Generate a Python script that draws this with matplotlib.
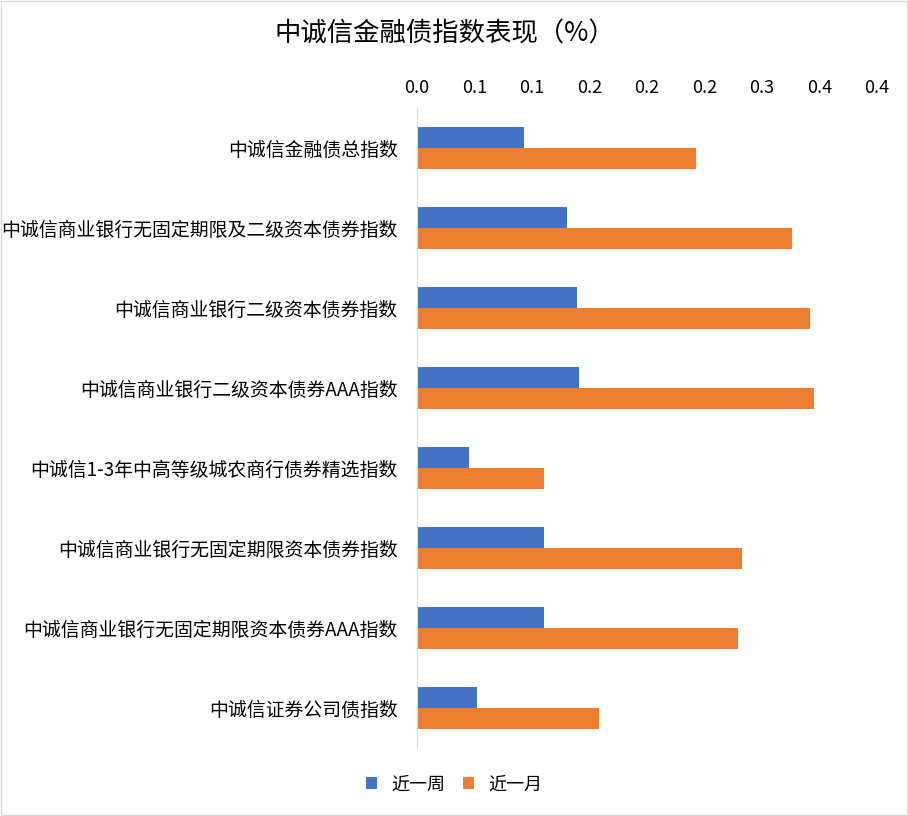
import matplotlib.pyplot as plt
import numpy as np
from matplotlib.ticker import FormatStrFormatter

plt.rcParams['font.family'] = ['Noto Sans CJK SC', 'DejaVu Sans']

categories = [
    "中诚信金融债总指数",
    "中诚信商业银行无固定期限及二级资本债券指数",
    "中诚信商业银行二级资本债券指数",
    "中诚信商业银行二级资本债券AAA指数",
    "中诚信1-3年中高等级城农商行债券精选指数",
    "中诚信商业银行无固定期限资本债券指数",
    "中诚信商业银行无固定期限资本债券AAA指数",
    "中诚信证券公司债指数",
]
week = [0.093, 0.130, 0.139, 0.141, 0.045, 0.110, 0.110, 0.052]
month = [0.243, 0.326, 0.342, 0.345, 0.110, 0.283, 0.279, 0.158]

fig = plt.figure(figsize=(9.08, 8.16), dpi=100)
ax = fig.add_axes([417 / 908, 68 / 816, 460 / 908, 640 / 816])

y = np.arange(len(categories))
h = 0.265
ax.barh(y - h / 2, week, height=h, color="#4472C4", label="近一周")
ax.barh(y + h / 2, month, height=h, color="#ED7D31", label="近一月")

ax.set_ylim(len(categories) - 0.5, -0.5)
ax.set_xlim(0, 0.4)
ax.set_xticks(np.arange(0, 0.401, 0.05))
ax.xaxis.set_major_formatter(FormatStrFormatter("%.1f"))
ax.xaxis.tick_top()
ax.set_yticks(y)
ax.set_yticklabels(categories)
ax.tick_params(axis="x", length=0, labelsize=13, colors="#000000", pad=8)
ax.tick_params(axis="y", length=0, labelsize=13.6, colors="#000000", pad=14)
for s in ["top", "right", "bottom"]:
    ax.spines[s].set_visible(False)
ax.spines["left"].set_color("#D9D9D9")

fig.suptitle("中诚信金融债指数表现（%）", y=0.975, fontsize=19, x=0.49)
fig.legend(loc="lower center", bbox_to_anchor=(0.5, 0.008), ncol=2, frameon=False,
           fontsize=13, handlelength=0.6, handleheight=0.6, columnspacing=1.0)
fig.patches.append(plt.Rectangle((0.001, 0.001), 0.998, 0.998, transform=fig.transFigure,
                                 fill=False, edgecolor="#D9D9D9", linewidth=1))
fig.savefig("out.png", dpi=100)
